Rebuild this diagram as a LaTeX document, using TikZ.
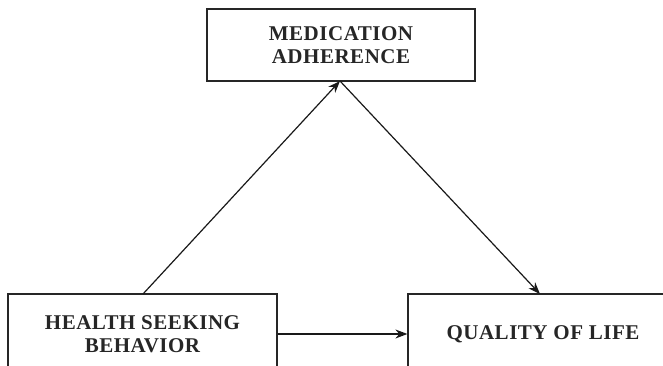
\documentclass[tikz,border=0pt]{standalone}
\usepackage{fontspec}
\setmainfont[LetterSpace=2.5]{Liberation Serif}
\usetikzlibrary{arrows.meta}
\begin{document}
\begin{tikzpicture}[x=1pt,y=1pt,
  box/.style={draw=black!85,line width=1.2pt,inner sep=0pt,align=center,
    font=\bfseries\fontsize{21}{23.5}\selectfont,text=black!85},
  link/.style={draw=black!90,line width=1.2pt,-{Stealth[length=12pt,width=9pt]}}]
\useasboundingbox (0,0) rectangle (663,366);
\clip (0,0) rectangle (663,366);
\node[box,minimum width=268,minimum height=72] (med) at (341,321) {MEDICATION\\ADHERENCE};
\node[box,minimum width=269,minimum height=80] (hsb) at (142.5,32) {HEALTH SEEKING\\BEHAVIOR};
\node[box,minimum width=270,minimum height=80] (qol) at (543,32) {QUALITY OF LIFE};
\coordinate (hsbtop) at (143,72);
\coordinate (medbot) at (340,285);
\coordinate (qoltop) at (540,72);
\draw[link] (hsbtop) -- (medbot);
\draw[link] (medbot) -- (qoltop);
\draw[link] (hsb.east) -- (qol.west);
\end{tikzpicture}
\end{document}
